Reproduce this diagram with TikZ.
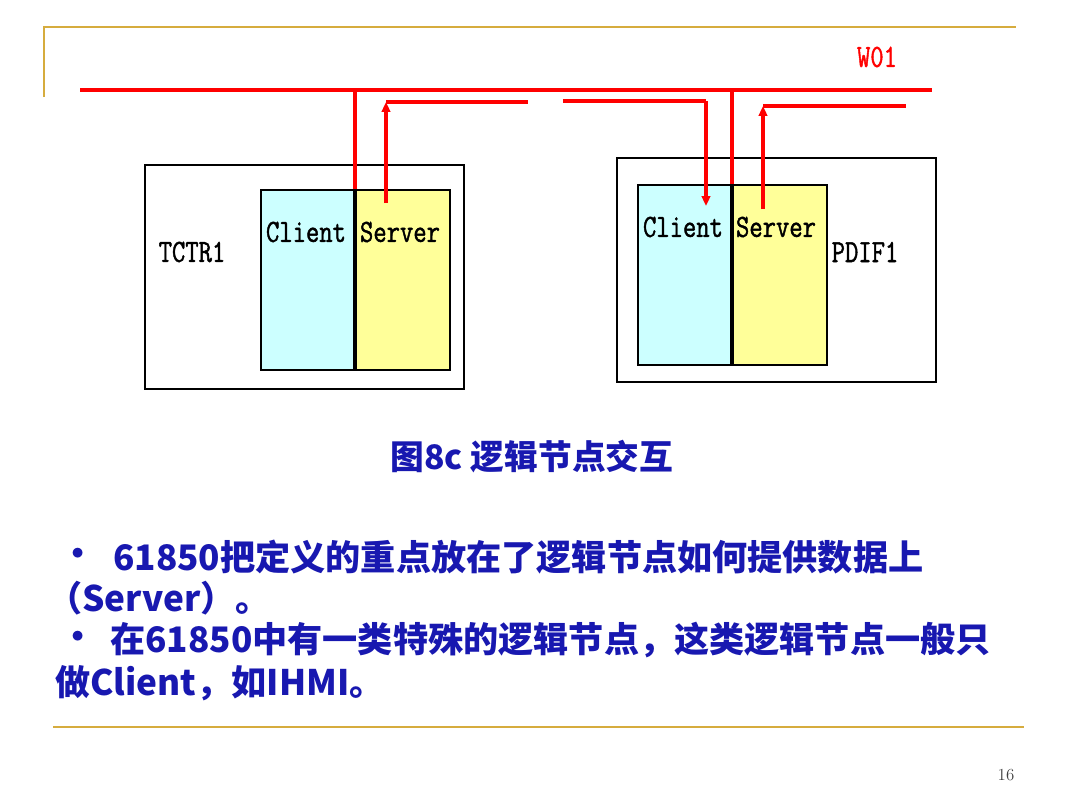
\documentclass[tikz,border=0pt]{standalone}
\usepackage{fontspec}
\usepackage{xcolor}
\usetikzlibrary{positioning,arrows.meta}
\newfontfamily\cjk{Noto Sans CJK SC}
\newfontfamily\labfont[FakeStretch=0.8,FakeBold=1.3]{Latin Modern Mono}
\definecolor{framegold}{RGB}{214,172,62}
\definecolor{textblue}{RGB}{24,24,176}
\definecolor{clientcyan}{RGB}{204,255,255}
\definecolor{serveryellow}{RGB}{255,255,153}

\begin{document}
\begin{tikzpicture}[x=0.025cm, y=-0.025cm,
    lnbox/.style={draw=black, line width=1.4pt, minimum width=319*0.025cm, minimum height=224*0.025cm, anchor=north west, inner sep=0pt},
    clibox/.style={draw=black, line width=1.4pt, fill=clientcyan, minimum width=93*0.025cm, minimum height=180*0.025cm, inner sep=0pt},
    srvbox/.style={clibox, fill=serveryellow, minimum width=94*0.025cm},
    lab/.style={font=\labfont\fontsize{23}{26}\selectfont, inner sep=0pt},
    wire/.style={draw=red, line width=2.2pt},
    sig/.style={wire, -{Triangle[length=7pt,width=6pt]}},
    bullet/.style={font=\cjk\bfseries\fontsize{25}{30}\selectfont, text=textblue, inner sep=0pt, anchor=west}]
    \useasboundingbox (0,0) rectangle (1080,809);

    % Slide frame
    \draw[framegold, line width=2pt] (44,97) -- (44,27) -- (1016,27);
    \draw[framegold, line width=2pt] (53,727) -- (1024,727);

    % Bus W01
    \coordinate (busw) at (80,90);
    \coordinate (buse) at (932,90);
    \draw[wire] (busw) -- (buse);
    \node[lab, text=red] (w01) at (877,57) {W01};

    % Logical node TCTR1
    \node[lnbox] (tctr) at (144,164) {};
    \node[clibox, anchor=north west] (tcli) at (260,189) {};
    \node[srvbox, right=0pt of tcli] (tsrv) {};
    \node[lab] (tclitxt) at (306,232) {Client};
    \node[lab] (tsrvtxt) at (400,232) {Server};
    \node[lab] (tname) at (192,252) {TCTR1};

    % Logical node PDIF1
    \node[lnbox] (pdif) at (616,157) {};
    \node[clibox, anchor=north west] (pcli) at (637,184) {};
    \node[srvbox, right=0pt of pcli] (psrv) {};
    \node[lab] (pclitxt) at (683,227) {Client};
    \node[lab] (psrvtxt) at (776,227) {Server};
    \node[lab] (pname) at (865,252) {PDIF1};

    % Taps and signal paths
    \draw[wire] (tcli.north east |- busw) -- (tcli.north east);
    \draw[wire] (pcli.north east |- busw) -- (pcli.north east);

    \coordinate (ts0) at (386,203);
    \coordinate (ts1) at (386,102);
    \coordinate (ts2) at (528,102);
    \draw[sig] (ts0) -- (ts1);
    \draw[wire] (ts1) -- (ts2);

    \coordinate (pc0) at (563,101);
    \coordinate (pc1) at (706,101);
    \coordinate (pc2) at (706,206);
    \draw[wire] (pc0) -- (pc1);
    \draw[sig] (pc1) -- (pc2);

    \coordinate (ps0) at (763,209);
    \coordinate (ps1) at (763,106);
    \coordinate (ps2) at (906,106);
    \draw[sig] (ps0) -- (ps1);
    \draw[wire] (ps1) -- (ps2);

    % Caption
    \node[font=\cjk\bfseries\fontsize{24}{28}\selectfont, text=textblue] (cap) at (532,457) {图8c 逻辑节点交互};

    % Notes
    \node[bullet] (b1) at (60,557) {•};
    \node[bullet] (l1) at (113,557) {61850把定义的重点放在了逻辑节点如何提供数据上};
    \node[bullet] (l2) at (47,598) {（Server）。};
    \node[bullet] (b2) at (60,640) {•};
    \node[bullet] (l3) at (110,640) {在61850中有一类特殊的逻辑节点，这类逻辑节点一般只};
    \node[bullet] (l4) at (55,683) {做Client，如IHMI。};

    % Page number
    \node[font=\fontsize{12}{14}\selectfont, text=black!75] (pg) at (1006,775) {16};
\end{tikzpicture}
\end{document}
